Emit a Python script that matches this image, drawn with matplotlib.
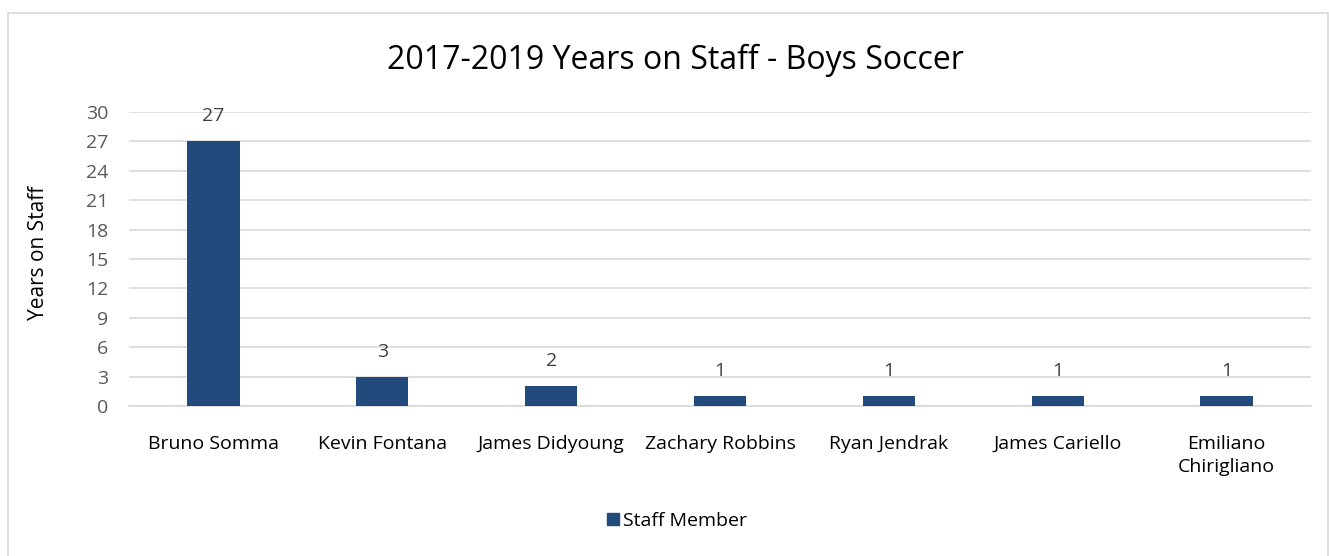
import matplotlib
matplotlib.use("Agg")
import matplotlib.pyplot as plt
from matplotlib.patches import Rectangle

categories = ["Bruno Somma", "Kevin Fontana", "James Didyoung", "Zachary Robbins",
              "Ryan Jendrak", "James Cariello", "Emiliano\nChirigliano"]
values = [27, 3, 2, 1, 1, 1, 1]
yticks = [0, 3, 6, 9, 12, 15, 18, 21, 24, 27, 30]
title = "2017-2019 Years on Staff - Boys Soccer"
ylabel = "Years on Staff"
series_name = "Staff Member"

plt.rcParams['font.family'] = ['Open Sans', 'DejaVu Sans']

W, H = 1329, 556
fig = plt.figure(figsize=(W/100, H/100), dpi=100)
bar_color = "#224A7C"

# chart border
border = Rectangle((8/W, -0.1), (1328 - 8)/W, (H - 13)/H + 0.1, transform=fig.transFigure,
                   fill=False, edgecolor="#D9D9D9", linewidth=1.2)
fig.add_artist(border)

ax = fig.add_axes([129/W, 1 - 406/H, (1311 - 129)/W, (406 - 112)/H])
x = range(len(categories))
ax.bar(x, values, width=0.31, color=bar_color, zorder=3)
ax.set_xlim(-0.5, len(categories) - 0.5)
ax.set_ylim(0, 30)
ax.set_yticks(yticks)
ax.set_yticklabels([str(t) for t in yticks], fontsize=14, color="#595959")
ax.set_xticks(list(x))
ax.set_xticklabels(categories, fontsize=14, color="#000000", linespacing=1.38, va="top")
ax.tick_params(axis="both", length=0)
ax.tick_params(axis="x", pad=21)
ax.tick_params(axis="y", pad=15)
ax.grid(axis="y", color="#D9D9D9", linewidth=1.2, zorder=0)
for s in ["top", "right", "left"]:
    ax.spines[s].set_visible(False)
ax.spines["bottom"].set_color("#D9D9D9")
ax.spines["bottom"].set_linewidth(1.2)

for xi, v in zip(x, values):
    ax.annotate(str(v), (xi, v), xytext=(0, 18), textcoords="offset points",
                ha="center", va="center", fontsize=14, color="#404040")

ax.set_ylabel(ylabel, fontsize=15, color="#000000")
ax.yaxis.set_label_coords((38 - 129) / (1311 - 129), (406 - 253) / (406 - 112))
ax.yaxis.label.set_verticalalignment("center")
fig.text(675 / W, 1 - 60/H, title, ha="center", va="center",
         fontsize=23, color="#000000")

handle = Rectangle((0, 0), 1, 1, color=bar_color)
fig.legend([handle], [series_name], loc="center", bbox_to_anchor=(677/W, 1 - 521/H),
           frameon=False, fontsize=14, handlelength=0.6, handleheight=0.6,
           handletextpad=0.2)

fig.savefig("out.png", dpi=100)
